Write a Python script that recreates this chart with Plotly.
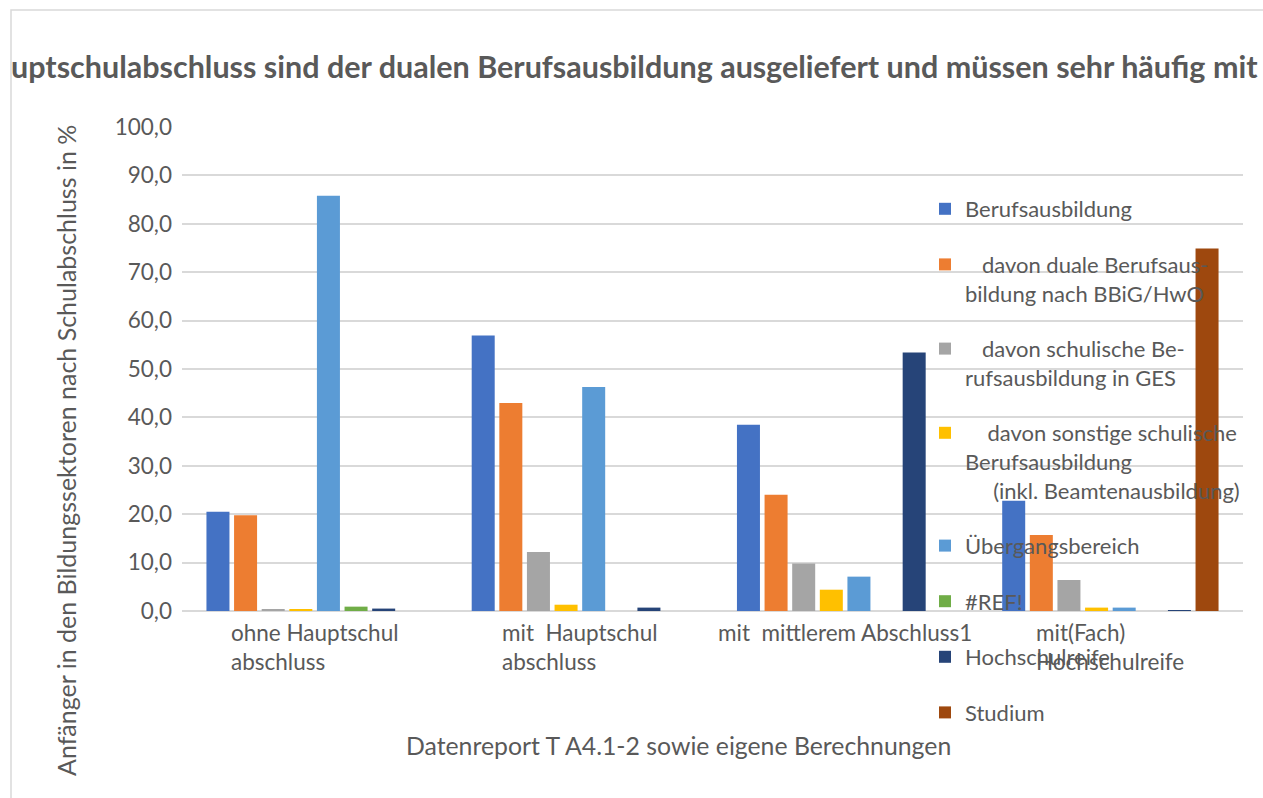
import plotly.graph_objects as go

# ---------------- data ----------------
categories = ["ohne Hauptschulabschluss", "mit Hauptschulabschluss",
              "mit mittlerem Abschluss1", "mit(Fach) Hochschulreife"]
category_labels = ["ohne Hauptschul<br>abschluss", "mit\u00a0\u00a0Hauptschul<br>abschluss",
                   "mit\u00a0\u00a0mittlerem Abschluss1", "mit(Fach)<br>Hochschulreife"]

series_names = [
    "Berufsausbildung",
    "\u00a0\u00a0\u00a0davon duale Berufsaus-<br>bildung nach BBiG/HwO",
    "\u00a0\u00a0\u00a0davon schulische Be-<br>rufsausbildung in GES",
    "\u00a0\u00a0\u00a0\u00a0davon sonstige schulische<br>Berufsausbildung<br>\u00a0\u00a0\u00a0\u00a0\u00a0(inkl. Beamtenausbildung)",
    "Übergangsbereich",
    "#REF!",
    "Hochschulreife",
    "Studium",
]
berufsausbildung = [20.5, 56.9, 38.5, 22.8]
duale = [19.8, 43.0, 24.0, 15.7]
schulische_ges = [0.3, 12.2, 9.8, 6.4]
sonstige = [0.3, 1.3, 4.4, 0.7]
uebergang = [85.8, 46.3, 7.1, 0.7]
ref = [0.9, 0.0, 0.0, 0.0]
hochschulreife = [0.5, 0.7, 53.4, 0.2]
studium = [0.0, 0.0, 0.0, 74.9]
series_values = [berufsausbildung, duale, schulische_ges, sonstige,
                 uebergang, ref, hochschulreife, studium]

colors = ["#4472C4", "#ED7D31", "#A5A5A5", "#FFC000",
          "#5B9BD5", "#70AD47", "#264478", "#9E480E"]

title_text = "uptschulabschluss sind der dualen Berufsausbildung ausgeliefert und müssen sehr häufig mit"
y_title = "Anfänger in den Bildungssektoren nach Schulabschluss in %"
x_title = "Datenreport T A4.1-2 sowie eigene Berechnungen"

# ---------------- layout geometry ----------------
W, H = 1263, 798
L, R, T, B = 182, 20, 127, 187
PW, PH = W - L - R, H - T - B


def px(x):
    return (x - L) / PW


def py(y):
    return (H - B - y) / PH


GREY = "#595959"
FONT = "Lato"

fig = go.Figure()
for i, (name, vals, col) in enumerate(zip(series_names, series_values, colors)):
    fig.add_trace(go.Bar(x=categories, y=vals, name=name, marker_color=col,
                         marker_line_width=0, legendgroup=f"g{i}"))

annotations = []
for cat, lab in zip(categories, category_labels):
    annotations.append(dict(x=cat, y=0, xref="x", yref="paper", text=lab,
                            showarrow=False, xanchor="center", yanchor="top",
                            align="left", yshift=-6,
                            font=dict(family=FONT, size=22.5, color=GREY)))
annotations.append(dict(x=px(9), y=py(66), xref="paper", yref="paper", text="<b>" + title_text + "</b>",
                        showarrow=False, xanchor="left", yanchor="middle",
                        font=dict(family=FONT, size=30.5, color=GREY)))
annotations.append(dict(x=px(66), y=py(451), xref="paper", yref="paper", text=y_title,
                        showarrow=False, xanchor="center", yanchor="middle", textangle=-90,
                        font=dict(family=FONT, size=25, color=GREY)))
annotations.append(dict(x=px(678), y=py(745), xref="paper", yref="paper", text=x_title,
                        showarrow=False, xanchor="center", yanchor="middle",
                        font=dict(family=FONT, size=24.8, color=GREY)))

fig.update_layout(
    width=W, height=H,
    margin=dict(l=L, r=R, t=T, b=B),
    paper_bgcolor="white", plot_bgcolor="white",
    separators=", ",
    barmode="group", bargap=0.167, bargroupgap=0.167,
    font=dict(family=FONT, size=22, color=GREY),
    showlegend=True,
    legend=dict(x=px(925), y=py(188), xanchor="left", yanchor="top",
                bgcolor="rgba(0,0,0,0)", font=dict(family=FONT, size=22, color=GREY),
                valign="top", tracegroupgap=24, traceorder="grouped",
                itemwidth=30, maxheight=700),
    annotations=annotations,
    shapes=[dict(type="rect", xref="paper", yref="paper",
                 x0=px(11), x1=px(1300), y0=py(10), y1=py(830),
                 line=dict(color="#D9D9D9", width=1.5), fillcolor="rgba(0,0,0,0)",
                 layer="below")],
)
fig.update_xaxes(showticklabels=False, showgrid=False, zeroline=False, showline=False)
fig.update_yaxes(range=[0, 100], tickvals=[0, 10, 20, 30, 40, 50, 60, 70, 80, 90, 100],
                 tickformat=".1f", showgrid=True, gridcolor="#D9D9D9", gridwidth=1.5,
                 zeroline=True, zerolinecolor="#D9D9D9", zerolinewidth=1.5,
                 showline=False, ticks="", ticklabelstandoff=9,
                 tickfont=dict(family=FONT, size=22.5, color=GREY))

fig.write_html("out.html", config={"displayModeBar": False},
               post_script="document.body.style.margin='0';")
